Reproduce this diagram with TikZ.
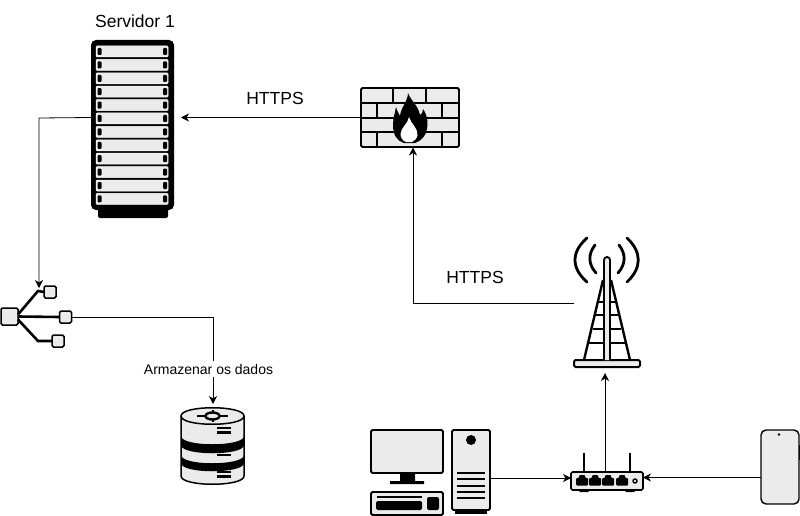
\documentclass[tikz,border=0pt]{standalone}
\usepackage{fontspec}
\setmainfont{Liberation Sans}
\usetikzlibrary{arrows.meta}
\definecolor{icone}{HTML}{EBEBEB}
\tikzset{
	caixa/.style={minimum width=#1, inner sep=0pt, outer sep=0pt},
	peca/.style={draw=black, fill=icone, line width=1.5pt, rounded corners=1.5pt},
	seta/.style={draw=black, line width=0.8pt, -{Stealth[length=8pt,width=8pt,inset=2.5pt]}},
	grosso/.style={draw=black, line width=2.8pt, line cap=round},
	rotulo/.style={font=\fontsize{17.5}{20}\selectfont, inner sep=0pt},
	rotulomenor/.style={font=\fontsize{14}{16}\selectfont, fill=white, inner xsep=1pt, inner ysep=3pt},
}
\begin{document}
\begin{tikzpicture}[x=1pt, y=-1pt]
	\useasboundingbox (0,0) rectangle (800,516);

	% nos principais
	\node[caixa=83pt, minimum height=178pt] (servidor) at (132.5,129) {};
	\node[caixa=98pt, minimum height=59pt] (firewall) at (410,117.5) {};
	\node[caixa=66pt, minimum height=130pt] (torre) at (607,303) {};
	\node[caixa=72pt, minimum height=18pt] (roteador) at (607,481) {};
	\node[caixa=38pt, minimum height=74pt] (celular) at (780,467) {};
	\node[caixa=38pt, minimum height=84pt] (gabinete) at (471,472) {};
	\node[caixa=63pt, minimum height=76pt] (banco) at (212.5,446) {};
	\node[peca, caixa=17pt, minimum height=17pt] (raiz) at (9.5,316.5) {};
	\node[peca, caixa=12pt, minimum height=12pt] (folhaA) at (50,292) {};
	\node[peca, caixa=12pt, minimum height=12pt] (folhaB) at (65.5,317) {};
	\node[peca, caixa=12pt, minimum height=12pt] (folhaC) at (58,341) {};
	\node[rotulo] (titulo) at (135,21) {Servidor 1};
	\node[rotulo] (httpsA) at (275,98) {HTTPS};
	\node[rotulo] (httpsB) at (475,277) {HTTPS};

	% servidor
	\fill[black, rounded corners=2pt] (98,205) rectangle (168,218);
	\fill[black, rounded corners=5pt] (91,40) rectangle (174,210);
	\foreach \i in {0,...,11} {
		\fill[icone, draw=white, line width=0.5pt, rounded corners=1pt] (96,{46+13.4*\i}) rectangle (168,{57+13.4*\i});
		\fill[black, rounded corners=1pt] (97.5,{48+13.4*\i}) rectangle (101.5,{55+13.4*\i});
		\fill[black, rounded corners=1pt] (163,{48+13.4*\i}) rectangle (167,{55+13.4*\i});
	}

	% firewall
	\draw[peca, line width=1.8pt] (361,88) rectangle (459,147);
	\draw[line width=1.8pt] (361,103) -- (459,103) (361,118) -- (459,118) (361,132) -- (459,132);
	\draw[line width=1.8pt] (393,88) -- (393,103) (426,88) -- (426,103);
	\foreach \y in {103,132} {
		\draw[line width=1.8pt] (377,\y) -- (377,\y+15) (442,\y) -- (442,\y+15);
	}
	\fill[black] (408,93) .. controls (411,101) and (418,105) .. (420,115)
		.. controls (422,114) and (423,112) .. (423,109)
		.. controls (428,116) and (428,124) .. (427,129)
		.. controls (426,136) and (421,141) .. (415,143) -- (404,143)
		.. controls (397,141) and (393,135) .. (393,125)
		.. controls (393,118) and (395,113) .. (396,107)
		.. controls (397,110) and (398,113) .. (400,116)
		.. controls (401,107) and (408,101) .. (408,93) -- cycle;
	\fill[white] (409,117) .. controls (411,124) and (418,128) .. (417.5,135)
		.. controls (417,139) and (414,141) .. (412,142) -- (406,142)
		.. controls (403,141) and (400.5,138) .. (400.5,134)
		.. controls (401,127) and (408,124) .. (409,117) -- cycle;

	% ramos da arvore
	\draw[line width=2.6pt] (raiz.east) ++(0,-2) -- (38,291) -- (folhaA.west);
	\draw[line width=2.6pt] (raiz.east) -- (folhaB.west);
	\draw[line width=2.6pt] (raiz.east) ++(0,3) -- (38,341) -- (folhaC.west);

	% banco de dados
	\draw[peca, rounded corners=0pt] (181,416) -- (181,476) .. controls (181,487) and (244,487) .. (244,476) -- (244,416);
	\fill[black] (181,436) .. controls (181,447) and (244,447) .. (244,436) -- (244,445) .. controls (244,456) and (181,456) .. (181,445) -- cycle;
	\fill[black] (181,455) .. controls (181,466) and (244,466) .. (244,455) -- (244,463) .. controls (244,474) and (181,474) .. (181,463) -- cycle;
	\draw[peca, rounded corners=0pt] (181,416) .. controls (181,405) and (244,405) .. (244,416) .. controls (244,427) and (181,427) .. (181,416) -- cycle;
	\draw[line width=2.4pt] (212.5,416) ellipse (7pt and 3.5pt);
	\draw[line width=2pt] (197,416) -- (205,416) (220,416) -- (228,416) (212.5,410) -- (212.5,412) (212.5,420) -- (212.5,422);
	\foreach \y in {428,432.5,450.5,455,472,476.5} {
		\draw[line width=2.2pt] (217,\y) -- (231,\y);
	}

	% computador
	\draw[peca, line width=1.8pt] (371,430) rectangle (443,473);
	\fill[black] (400,473) rectangle (415,481) (390,481) rectangle (424,484);
	\draw[peca, line width=1.8pt] (371,492) rectangle (443,515);
	\draw[line width=1.2pt] (377,497) -- (422,497);
	\fill[black, rounded corners=1.5pt] (376,501) rectangle (422,510);
	\fill[black, rounded corners=2pt] (427,497) rectangle (439,510);
	\fill[black] (455,505) rectangle (487,514);
	\draw[peca, line width=1.8pt] (452,430) rectangle (490,510);
	\fill[black] (471,440) circle (5pt);
	\foreach \y in {473,479,486,492,498} {
		\draw[line width=1.6pt] (457,\y) -- (485,\y);
	}

	% torre
	\draw[line width=2.4pt] (603,280) -- (584,360) (611,280) -- (630,360);
	\foreach \y/\d in {302/8,315/11,329/14,343/18} {
		\draw[line width=2.2pt] (607-\d,\y) -- (607+\d,\y);
	}
	\draw[peca, line width=2pt] (574,360) rectangle (640,367);
	\draw[peca, line width=1.8pt, rounded corners=3pt] (604,360) -- (604,257) -- (610,257) -- (610,360);
	\draw[grosso] (587,238) .. controls (571,252) and (571,268) .. (587,282);
	\draw[grosso] (595,245) .. controls (588,254) and (588,264) .. (596,273);
	\draw[grosso] (627,238) .. controls (642,252) and (642,268) .. (627,282);
	\draw[grosso] (619,245) .. controls (626,254) and (626,264) .. (618,273);

	% roteador
	\draw[line width=2.4pt] (584,453) -- (584,472) (630,453) -- (630,472);
	\fill[black, rounded corners=1pt] (579,488) rectangle (589,492) (625,488) rectangle (635,492);
	\draw[peca, line width=1.6pt] (571,472) rectangle (643,490);
	\foreach \x in {582,595,608,622} {
		\fill[black, rounded corners=1pt] (\x-6,478) -- (\x-3,478) -- (\x-3,475) -- (\x+3,475) -- (\x+3,478) -- (\x+6,478) -- (\x+6,485.5) -- (\x-6,485.5) -- cycle;
	}
	\draw[line width=1.4pt] (635,481) circle (2pt);

	% celular
	\fill[black] (798,445) rectangle (800,460);
	\draw[peca, line width=1.4pt, rounded corners=5pt] (761,430) rectangle (799,504);
	\fill[black] (779,434.5) circle (1.4pt);

	% ligacoes
	\coordinate (dobraA) at (39,118);
	\coordinate (pontaA) at (39,288);
	\coordinate (dobraB) at (213,317);
	\coordinate (pontaB) at (213,404);
	\coordinate (dobraC) at (413,303);
	\coordinate (pontaC) at (413,147.5);
	\coordinate (saidaR) at (605,472);
	\coordinate (pontaT) at (605,373);
	\draw[seta] (firewall.west) -- (servidor.east |- firewall.west) [shorten >=7pt];
	\draw[seta] (servidor.west |- firewall.west) -- (dobraA) -- (pontaA);
	\draw[seta] (folhaB.east) -- (dobraB) -- (pontaB) node[rotulomenor, pos=0.6, xshift=-4.5pt] (armazenar) {Armazenar os dados};
	\draw[seta] (torre.west) -- (dobraC) -- (pontaC);
	\draw[seta] (saidaR) -- (pontaT);
	\draw[seta] (gabinete.east |- 0,478) -- (roteador.west |- 0,478);
	\draw[seta] (celular.west |- 0,477.5) -- (roteador.east |- 0,477.5);
\end{tikzpicture}
\end{document}
